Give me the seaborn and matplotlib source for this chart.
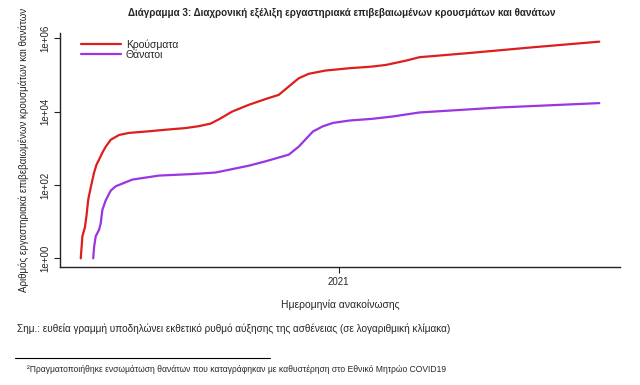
import pandas as pd
import numpy as np
import matplotlib
matplotlib.use("Agg")
import matplotlib.pyplot as plt
import seaborn as sns
from matplotlib.lines import Line2D

# Cases (Κρούσματα)
case_dates = ["2020-02-26", "2020-02-28", "2020-03-02", "2020-03-04", "2020-03-06",
              "2020-03-09", "2020-03-13", "2020-03-16", "2020-03-19", "2020-03-23",
              "2020-03-27", "2020-04-02", "2020-04-12", "2020-04-24", "2020-05-18",
              "2020-06-07", "2020-07-01", "2020-07-17", "2020-07-31", "2020-08-10",
              "2020-08-26", "2020-09-15", "2020-10-05", "2020-10-21", "2020-11-02",
              "2020-11-14", "2020-11-26", "2020-12-16", "2021-01-14", "2021-02-10",
              "2021-02-27", "2021-03-23", "2021-04-08", "2021-06-03", "2021-08-22",
              "2021-11-10"]
case_values = [1, 4, 7, 15, 40, 85, 217, 360, 490, 760,
               1100, 1700, 2300, 2620, 2900, 3200, 3550, 4000, 4700, 6150,
               10000, 15300, 21900, 28600, 48300, 81000, 107000, 131000, 152000, 168000,
               187000, 245000, 303000, 387000, 564000, 803000]

# Deaths (Θάνατοι)
death_dates = ["2020-03-12", "2020-03-13", "2020-03-15", "2020-03-19", "2020-03-21",
               "2020-03-23", "2020-03-27", "2020-04-02", "2020-04-08", "2020-04-12",
               "2020-04-28", "2020-05-30", "2020-07-09", "2020-08-06", "2020-08-26",
               "2020-09-15", "2020-10-05", "2020-11-02", "2020-11-14", "2020-12-01",
               "2020-12-13", "2020-12-25", "2021-01-14", "2021-02-10", "2021-03-07",
               "2021-04-08", "2021-07-13", "2021-11-10"]
death_values = [1, 2, 4, 6, 9, 21, 38, 70, 92, 100,
                140, 180, 198, 218, 270, 335, 440, 670, 1110, 2870,
                3970, 4900, 5700, 6330, 7350, 9450, 12900, 17000]

y_ticks = [1, 100, 10000, 1000000]
y_labels = ["1e+00", "1e+02", "1e+04", "1e+06"]

df = pd.concat([
    pd.DataFrame({"date": pd.to_datetime(case_dates), "value": case_values, "series": "Κρούσματα"}),
    pd.DataFrame({"date": pd.to_datetime(death_dates), "value": death_values, "series": "Θάνατοι"}),
])

sns.set_style("white")
plt.rcParams["font.family"] = ["Liberation Sans Narrow", "Liberation Sans", "DejaVu Sans"]

fig = plt.figure(figsize=(6.4, 3.85), dpi=100)
ax = fig.add_axes([60 / 640, 1 - 267 / 385, 560 / 640, 234 / 385])

sns.lineplot(data=df, x="date", y="value", hue="series",
             palette={"Κρούσματα": "#DD1E1E", "Θάνατοι": "#9A35E0"},
             linewidth=1.6, ax=ax)

ax.set_yscale("log")

# R-style 4% padding around the data range
dmin, dmax = df["date"].min(), df["date"].max()
span = dmax - dmin
ax.set_xlim(dmin - 0.04 * span, dmax + 0.04 * span)
lmin, lmax = np.log10(df["value"].min()), np.log10(df["value"].max())
lspan = lmax - lmin
ax.set_ylim(10 ** (lmin - 0.04 * lspan), 10 ** (lmax + 0.04 * lspan))

ax.set_yticks(y_ticks)
ax.set_yticklabels(y_labels, rotation=90, va="center", fontsize=7)
ax.minorticks_off()
ax.set_xticks([pd.Timestamp("2021-01-01")])
ax.set_xticklabels(["2021"], fontsize=7)
ax.tick_params(axis="both", length=4, width=0.8, color="#222222", pad=3, left=True, bottom=True)

for side in ["top", "right"]:
    ax.spines[side].set_visible(False)
for side in ["left", "bottom"]:
    ax.spines[side].set_color("#222222")
    ax.spines[side].set_linewidth(1)

ax.set_xlabel("Ημερομηνία ανακοίνωσης", fontsize=7.5, labelpad=9)
ax.set_ylabel("Αριθμός εργαστηριακά επιβεβαιωμένων κρουσμάτων και θανάτων", fontsize=7, labelpad=8)

ax.legend(loc="upper left", bbox_to_anchor=(0.03, 0.99), frameon=False, fontsize=7.5,
          handlelength=3.8, handletextpad=0.5, labelspacing=0.0, borderaxespad=0)

fig.text(342 / 640, 1 - 13 / 385, "Διάγραμμα 3: Διαχρονική εξέλιξη εργαστηριακά επιβεβαιωμένων κρουσμάτων και θανάτων",
         ha="center", va="center", fontsize=7.1, fontweight="bold")
fig.text(17 / 640, 1 - 329 / 385,
         "Σημ.: ευθεία γραμμή υποδηλώνει εκθετικό ρυθμό αύξησης της ασθένειας (σε λογαριθμική κλίμακα)",
         ha="left", va="center", fontsize=7.2)
fig.add_artist(Line2D([15 / 640, 270 / 640], [1 - 358 / 385, 1 - 358 / 385], color="black", linewidth=0.8))
fig.text(27 / 640, 1 - 369 / 385,
         "²Πραγματοποιήθηκε ενσωμάτωση θανάτων που καταγράφηκαν με καθυστέρηση στο Εθνικό Μητρώο COVID19",
         ha="left", va="center", fontsize=6.15)

fig.savefig("out.png", dpi=100)
